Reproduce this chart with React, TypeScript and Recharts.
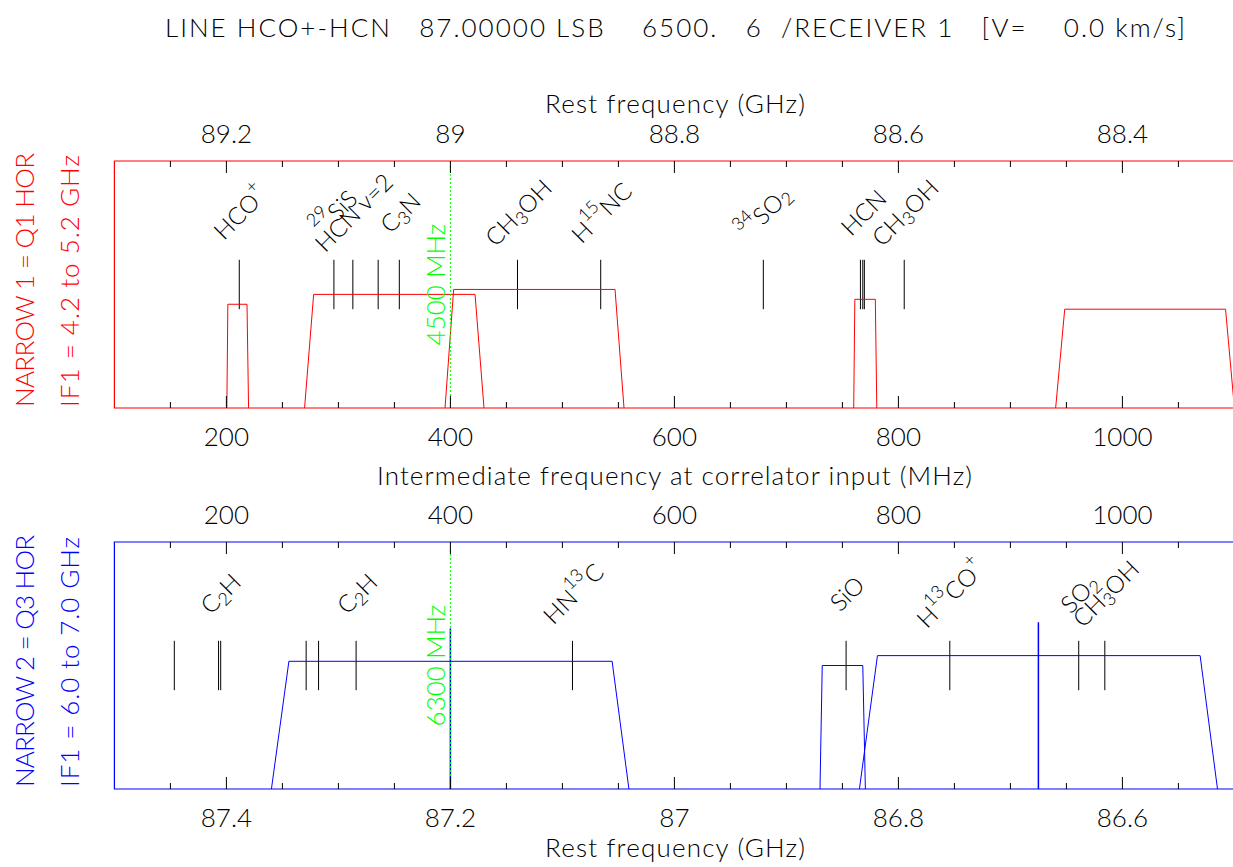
import React from "react";
import { ComposedChart, Line, XAxis, YAxis, ReferenceLine, ReferenceArea, Scatter } from "recharts";

const FONT = "Lato, 'Liberation Sans', sans-serif";
const RED = "#ff0000";
const BLUE = "#0000ff";
const GREEN = "#00ff00";

// intermediate frequency at correlator input (MHz)
const ifTicks = [150, 200, 250, 300, 350, 400, 450, 500, 550, 600, 650, 700, 750, 800, 850, 900, 950, 1000, 1050];
const ifMajor = [200, 400, 600, 800, 1000];

// rest frequency (GHz)
const q1RestTicks = [89.25, 89.2, 89.15, 89.1, 89.05, 89, 88.95, 88.9, 88.85, 88.8, 88.75, 88.7, 88.65, 88.6, 88.55, 88.5, 88.45, 88.4, 88.35];
const q1RestMajor = [89.2, 89, 88.8, 88.6, 88.4];
const q3RestTicks = [87.45, 87.4, 87.35, 87.3, 87.25, 87.2, 87.15, 87.1, 87.05, 87, 86.95, 86.9, 86.85, 86.8, 86.75, 86.7, 86.65, 86.6, 86.55];
const q3RestMajor = [87.4, 87.2, 87, 86.8, 86.6];

// correlator windows (IF, MHz) and their drawn level
const q1Windows = [
  { lo: 200.4, loTop: 201.3, hiTop: 218.4, hi: 219.8, level: 0.42 },
  { lo: 269.8, loTop: 277.9, hiTop: 422.0, hi: 430.0, level: 0.46 },
  { lo: 395.2, loTop: 402.9, hiTop: 547.0, hi: 555.0, level: 0.48 },
  { lo: 760.1, loTop: 761.1, hiTop: 779.4, hi: 780.7, level: 0.44 },
  { lo: 940.4, loTop: 948.5, hiTop: 1092.1, hi: 1100, level: 0.40 },
];
const q3Windows = [
  { lo: 240.2, loTop: 255.8, hiTop: 544.4, hi: 559.4, level: 0.517 },
  { lo: 730.0, loTop: 732.0, hiTop: 768.2, hi: 770.5, level: 0.50 },
  { lo: 765.2, loTop: 781.3, hiTop: 1069.4, hi: 1084.9, level: 0.54 },
];

// line catalogue (rest frequency, GHz)
const q1Lines = [89.1885, 89.104, 89.0871, 89.0645, 89.0456, 88.9401, 88.8658, 88.7206, 88.6339, 88.6318, 88.6304, 88.5948];
const q1Labels = [
  { f: 89.1885, text: "HCO^+" },
  { f: 89.104, text: "^{29}SiS" },
  { f: 89.0871, text: "HCN v=2" },
  { f: 89.0456, text: "C_3N" },
  { f: 88.9401, text: "CH_3OH" },
  { f: 88.8658, text: "H^{15}NC" },
  { f: 88.7206, text: "^{34}SO_2" },
  { f: 88.6318, text: "HCN" },
  { f: 88.5948, text: "CH_3OH" },
];
const q3Lines = [87.4465, 87.407, 87.4051, 87.3288, 87.3177, 87.2842, 87.091, 86.8467, 86.7541, 86.639, 86.6157];
const q3Labels = [
  { f: 87.4061, text: "C_2H" },
  { f: 87.2842, text: "C_2H" },
  { f: 87.091, text: "HN^{13}C" },
  { f: 86.8467, text: "SiO" },
  { f: 86.7541, text: "H^{13}CO^+" },
  { f: 86.639, text: "SO_2" },
  { f: 86.6157, text: "CH_3OH" },
];

// extra markers (IF, MHz) drawn in the baseband colour
const q3Markers = [
  { x: 400, top: 0.65 },
  { x: 925, top: 0.675 },
];

const LINE_LO = 0.4;
const LINE_HI = 0.6;
const LABEL_ROW = 0.795;

const W = 1250;
const H = 867;
const LEFT = 114.4;
const PLOT_W = 1120;
const PLOT_H = 247;

function parseMarkup(s: string) {
  const out: { kind: string; s: string }[] = [];
  const re = /([\^_])(\{[^}]*\}|.)|([^\^_]+)/g;
  let m;
  while ((m = re.exec(s))) {
    if (m[3]) out.push({ kind: "norm", s: m[3] });
    else {
      const t = m[2].startsWith("{") ? m[2].slice(1, -1) : m[2];
      out.push({ kind: m[1] === "^" ? "sup" : "sub", s: t });
    }
  }
  return out;
}

function RichText({ x, y, text, size }: any) {
  let shift = 0;
  const spans = parseMarkup(text).map((p, i) => {
    const target = p.kind === "sup" ? -0.42 * size : p.kind === "sub" ? 0.3 * size : 0;
    const dy = target - shift;
    shift = target;
    return (
      <tspan key={i} dy={dy} fontSize={p.kind === "norm" ? size : size * 0.75}>
        {p.s}
      </tspan>
    );
  });
  return (
    <text
      x={x}
      y={y}
      textAnchor="middle"
      dominantBaseline="central"
      transform={`rotate(-45 ${x} ${y})`}
      fontFamily={FONT}
      fontWeight={300}
      fill="#000"
    >
      {spans}
    </text>
  );
}

const makeTick = (side: "top" | "bottom", major: number[]) => (props: any) => {
  const { x, y, payload } = props;
  const v = payload.value;
  const isMajor = major.some((m) => Math.abs(m - v) < 1e-6);
  const inward = side === "top" ? 1 : -1;
  const len = isMajor ? 12 : 6;
  return (
    <g>
      <line x1={x} x2={x} y1={y} y2={y + inward * len} stroke="#000" strokeWidth={1} />
      {isMajor && (
        <text
          x={x}
          y={y - inward * 28}
          textAnchor="middle"
          dominantBaseline="central"
          fontFamily={FONT}
          fontWeight={300}
          fontSize={26}
          fill="#000"
        >
          {String(v)}
        </text>
      )}
    </g>
  );
};

function Panel({ plotTop, color, windows, lines, labels, restDomain, restTicks, restMajor, restSide, markers, loText }: any) {
  const ifSide = restSide === "top" ? "bottom" : "top";
  const labelData = labels.map((l: any) => ({ f: l.f, y: LABEL_ROW, text: l.text }));
  return (
    <ComposedChart
      width={W}
      height={H}
      margin={{ top: plotTop - 1, bottom: H - plotTop - PLOT_H - 1, left: LEFT, right: W - LEFT - PLOT_W }}
    >
      <XAxis
        xAxisId="if"
        dataKey="x"
        type="number"
        domain={[100, 1100]}
        ticks={ifTicks}
        orientation={ifSide}
        height={1}
        tickSize={0}
        tickMargin={0}
        axisLine={false}
        tickLine={false}
        interval={0}
        allowDataOverflow
        tick={makeTick(ifSide, ifMajor)}
      />
      <XAxis
        xAxisId="rest"
        dataKey="f"
        type="number"
        domain={restDomain}
        reversed
        ticks={restTicks}
        orientation={restSide}
        height={1}
        tickSize={0}
        tickMargin={0}
        axisLine={false}
        tickLine={false}
        interval={0}
        allowDataOverflow
        tick={makeTick(restSide, restMajor)}
      />
      <YAxis dataKey="y" type="number" domain={[0, 1]} hide allowDataOverflow />
      <ReferenceArea xAxisId="if" x1={100} x2={1100} y1={0} y2={1} fill="none" stroke={color} strokeWidth={1.2} ifOverflow="visible" />
      {lines.map((f: number, i: number) => (
        <ReferenceLine
          key={"l" + i}
          xAxisId="rest"
          segment={[{ x: f, y: LINE_LO }, { x: f, y: LINE_HI }]}
          stroke="#000"
          strokeWidth={1}
        />
      ))}
      {windows.map((w: any, i: number) => (
        <Line
          key={"w" + i}
          xAxisId="if"
          data={[
            { x: w.lo, y: 0 },
            { x: w.loTop, y: w.level },
            { x: w.hiTop, y: w.level },
            { x: w.hi, y: 0 },
          ]}
          dataKey="y"
          type="linear"
          stroke={color}
          strokeWidth={1}
          dot={false}
          activeDot={false}
          isAnimationActive={false}
        />
      ))}
      {markers.map((m: any, i: number) => (
        <ReferenceLine
          key={"m" + i}
          xAxisId="if"
          segment={[{ x: m.x, y: 0 }, { x: m.x, y: m.top }]}
          stroke={color}
          strokeWidth={1.5}
        />
      ))}
      <ReferenceLine
        xAxisId="if"
        x={400}
        stroke={GREEN}
        strokeWidth={1}
        strokeDasharray="2 2"
        label={(p: any) => {
          const vb = p.viewBox || {};
          const cx = vb.x - 15;
          const cy = vb.y + (vb.height || 0) / 2;
          return (
            <text
              x={cx}
              y={cy}
              textAnchor="middle"
              dominantBaseline="central"
              transform={`rotate(-90 ${cx} ${cy})`}
              fontFamily={FONT}
              fontWeight={300}
              fontSize={26}
              fill={GREEN}
            >
              {loText}
            </text>
          );
        }}
      />
      <Scatter
        xAxisId="rest"
        data={labelData}
        isAnimationActive={false}
        shape={(p: any) => <RichText x={p.cx} y={p.cy} text={p.payload.text} size={24} />}
      />
    </ComposedChart>
  );
}

export default function App() {
  const t = { fontFamily: FONT, fontWeight: 300, fontSize: 26, fill: "#000" } as any;
  return (
    <div style={{ position: "absolute", left: 0, top: 0, width: 1233, height: 867, overflow: "hidden", background: "#fff" }}>
      <div style={{ position: "absolute", left: 0, top: 0 }}>
        <Panel
          plotTop={161}
          color={RED}
          windows={q1Windows}
          lines={q1Lines}
          labels={q1Labels}
          restDomain={[88.3, 89.3]}
          restTicks={q1RestTicks}
          restMajor={q1RestMajor}
          restSide="top"
          markers={[]}
          loText="4500 MHz"
        />
      </div>
      <div style={{ position: "absolute", left: 0, top: 0 }}>
        <Panel
          plotTop={542}
          color={BLUE}
          windows={q3Windows}
          lines={q3Lines}
          labels={q3Labels}
          restDomain={[86.5, 87.5]}
          restTicks={q3RestTicks}
          restMajor={q3RestMajor}
          restSide="bottom"
          markers={q3Markers}
          loText="6300 MHz"
        />
      </div>
      <svg width={1233} height={867} style={{ position: "absolute", left: 0, top: 0, pointerEvents: "none" }}>
        <text {...t} x={165} y={27} dominantBaseline="central" textLength={1020} lengthAdjust="spacing" style={{ whiteSpace: "pre" }}>
          {"LINE HCO+-HCN   87.00000 LSB    6500.   6  /RECEIVER 1   [V=    0.0 km/s]"}
        </text>
        <text {...t} x={675} y={103} textAnchor="middle" dominantBaseline="central" textLength={260} lengthAdjust="spacing">
          Rest frequency (GHz)
        </text>
        <text {...t} x={674.5} y={475} textAnchor="middle" dominantBaseline="central" textLength={595} lengthAdjust="spacing">
          Intermediate frequency at correlator input (MHz)
        </text>
        <text {...t} x={675} y={847} textAnchor="middle" dominantBaseline="central" textLength={260} lengthAdjust="spacing">
          Rest frequency (GHz)
        </text>
        <text {...t} fill={RED} x={24} y={280} textAnchor="middle" dominantBaseline="central" textLength={254} lengthAdjust="spacing" transform="rotate(-90 24 280)">
          NARROW 1 = Q1 HOR
        </text>
        <text {...t} fill={RED} x={69} y={281} textAnchor="middle" dominantBaseline="central" textLength={252} lengthAdjust="spacing" transform="rotate(-90 69 281)">
          IF1 = 4.2 to 5.2 GHz
        </text>
        <text {...t} fill={BLUE} x={24} y={661} textAnchor="middle" dominantBaseline="central" textLength={252} lengthAdjust="spacing" transform="rotate(-90 24 661)">
          NARROW 2 = Q3 HOR
        </text>
        <text {...t} fill={BLUE} x={69} y={662} textAnchor="middle" dominantBaseline="central" textLength={250} lengthAdjust="spacing" transform="rotate(-90 69 662)">
          IF1 = 6.0 to 7.0 GHz
        </text>
      </svg>
    </div>
  );
}
